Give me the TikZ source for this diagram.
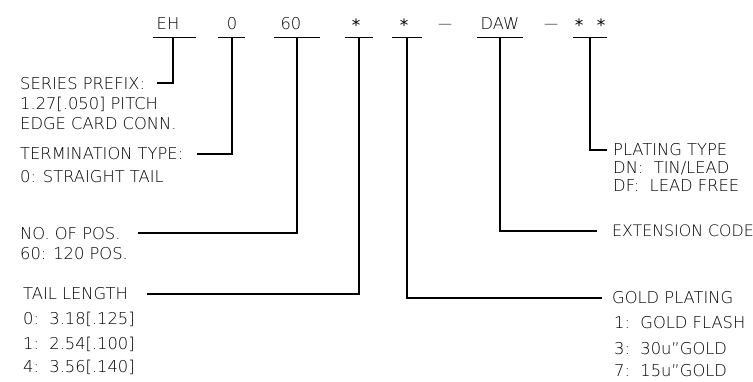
\documentclass[tikz,border=0pt]{standalone}
\usepackage{fontspec}
\setmainfont{DejaVu Sans ExtraLight}
\newfontfamily\symfont{DejaVu Sans}
\begin{document}
\begin{tikzpicture}[x=1pt,y=-1pt,
  lbl/.style={anchor=base west,inner sep=0pt,font=\fontsize{16.3}{18}\selectfont},
  code/.style={anchor=base,inner sep=0pt,font=\fontsize{16.3}{18}\selectfont},
  star/.style={anchor=base,inner sep=0pt,font=\symfont\fontsize{17}{18}\selectfont},
  dsh/.style={anchor=base,inner sep=0pt,font=\fontsize{14}{16}\selectfont},
  wire/.style={line width=1.1pt,black}]
\useasboundingbox (0,0) rectangle (753,382);
% top code row
\node[code] (eh) at (168,30) {EH};
\node[code] (zero) at (232,30) {0};
\node[code] (sixty) at (291,30) {60};
\node[star] (st1) at (356,32) {*};
\node[star] (st2) at (404,32) {*};
\node[dsh] (dash1) at (445,28.5) {---};
\node[code] (daw) at (500,30) {DAW};
\node[dsh] (dash2) at (551,28.5) {---};
\node[star] (st3a) at (579,32) {*};
\node[star] (st3b) at (601,32) {*};
% underlines
\coordinate (ehL) at (153,37.5); \coordinate (ehR) at (196,37.5);
\coordinate (zL) at (218,37.5); \coordinate (zR) at (245,37.5);
\coordinate (sL) at (274,37.5); \coordinate (sR) at (320,37.5);
\coordinate (a1L) at (345,37.5); \coordinate (a1R) at (373,37.5);
\coordinate (a2L) at (392,37.5); \coordinate (a2R) at (422,37.5);
\coordinate (dL) at (477,37.5); \coordinate (dR) at (523,37.5);
\coordinate (a3L) at (573,37.5); \coordinate (a3R) at (607,37.5);
\foreach \l/\r in {ehL/ehR,zL/zR,sL/sR,a1L/a1R,a2L/a2R,dL/dR,a3L/a3R}
  \draw[wire] (\l) -- (\r);
% stem tops
\coordinate (ehT) at (173,37.5);
\coordinate (zT) at (232,37.5);
\coordinate (sT) at (297,37.5);
\coordinate (a1T) at (359,37.5);
\coordinate (a2T) at (407,37.5);
\coordinate (dT) at (500,37.5);
\coordinate (a3T) at (590,37.5);
% left labels
\node[lbl] (series) at (20,90) {SERIES PREFIX:};
\node[lbl] (pitch) at (20,110) {1.27[.050] PITCH};
\node[lbl] (edge) at (20,130) {EDGE CARD CONN.};
\node[lbl] (term) at (20,160) {TERMINATION TYPE:};
\node[lbl] (straight) at (20,183) {0: STRAIGHT TAIL};
\node[lbl] (nopos) at (20,240) {NO. OF POS.};
\node[lbl] (pos120) at (20,260) {60: 120 POS.};
\node[lbl] (tail) at (23,300) {TAIL LENGTH};
\node[lbl] (t0) at (23,325) {0:\ \ 3.18[.125]};
\node[lbl] (t1) at (23,349) {1:\ \ 2.54[.100]};
\node[lbl] (t4) at (23,372) {4:\ \ 3.56[.140]};
% right labels
\node[lbl] (plat) at (613,156) {PLATING TYPE};
\node[lbl] (dn) at (613,174) {DN:\ \ TIN/LEAD};
\node[lbl] (df) at (613,192) {DF:\ \ LEAD FREE};
\node[lbl,font=\fontsize{15.8}{18}\selectfont] (ext) at (612,237) {EXTENSION CODE};
\node[lbl] (gold) at (612,304) {GOLD PLATING};
\node[lbl] (g1) at (614,328) {1:\ \ GOLD FLASH};
\node[lbl] (g3) at (614,354) {3:\ \ 30u"GOLD};
\node[lbl] (g7) at (614,377) {7:\ \ 15u"GOLD};
% connector ends
\coordinate (seriesE) at (157,83);
\coordinate (termE) at (197,154);
\coordinate (noposE) at (138,233);
\coordinate (tailE) at (147,294);
\coordinate (goldE) at (602,298);
\coordinate (extE) at (597,231);
\coordinate (platE) at (607,150);
% connectors
\draw[wire] (ehT) |- (seriesE);
\draw[wire] (zT) |- (termE);
\draw[wire] (sT) |- (noposE);
\draw[wire] (a1T) |- (tailE);
\draw[wire] (a2T) |- (goldE);
\draw[wire] (dT) |- (extE);
\draw[wire] (a3T) |- (platE);
\end{tikzpicture}
\end{document}
